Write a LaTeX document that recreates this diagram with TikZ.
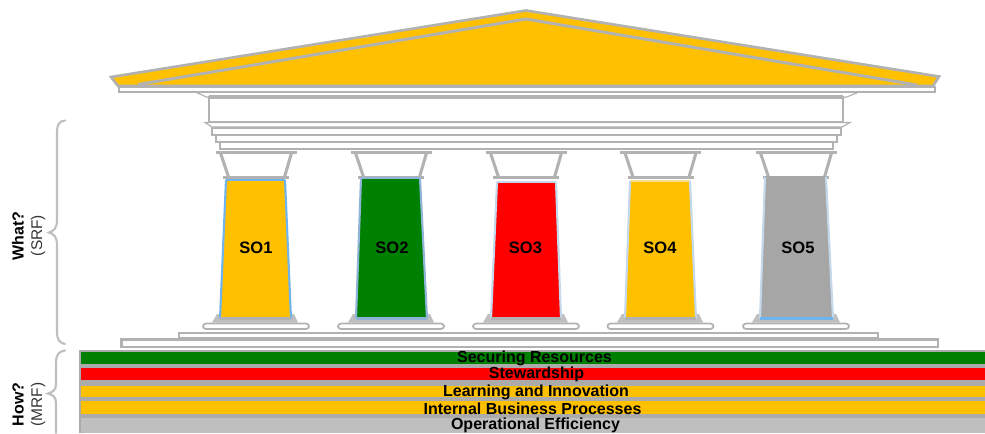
\documentclass[tikz,border=0pt]{standalone}
\usepackage{fontspec}
\setmainfont{Liberation Sans}
\definecolor{gold}{HTML}{FFC000}
\definecolor{dgreen}{HTML}{008000}
\definecolor{line}{HTML}{B2B2B2}
\definecolor{barbg}{HTML}{ABABAB}
\definecolor{pale}{HTML}{BFBFBF}
\definecolor{colgray}{HTML}{A6A6A6}
\definecolor{skyb}{HTML}{70B4EE}
\definecolor{softb}{HTML}{8FB4D8}
\definecolor{paleb}{HTML}{C4D8EC}
\definecolor{paley}{HTML}{F4E08C}
\tikzset{
  beam/.style={draw=line,line width=1.5pt,fill=white},
  thick stroke/.style={draw=line,line width=2.3pt},
  brace line/.style={draw=pale,line width=1.6pt,line cap=round},
  bar label/.style={font=\bfseries\fontsize{12}{12}\selectfont,text=black,inner sep=0pt,anchor=center},
  so label/.style={font=\bfseries\fontsize{12.4}{12.4}\selectfont,text=black,inner sep=0pt,anchor=center},
  side bold/.style={font=\bfseries\fontsize{12}{12}\selectfont,rotate=90,inner sep=0pt,anchor=center},
  side plain/.style={font=\fontsize{11.6}{12}\selectfont,text=black!80,rotate=90,inner sep=0pt,anchor=center},
}
\begin{document}
\begin{tikzpicture}[x=0.75pt,y=-0.75pt]
\useasboundingbox (0,0) rectangle (985,433);
% pediment
\path[fill=gold,draw=line,line width=2pt,line join=miter] (111,77) -- (526,10.5) -- (939,76.5) -- (933,86) -- (118,86) -- cycle;
\path[draw=line,line width=2.2pt] (138,84.5) -- (526,19) -- (917,85);
% cornice
\path[beam] (118.5,86.5) rectangle (935,92);
% entablature
\path[draw=line,line width=0.9pt] (197,93) .. controls (202,94) and (204,97) .. (209,97.5);
\path[draw=line,line width=0.9pt] (857,93) .. controls (852,94) and (850,97) .. (843,97.5);
\path[beam] (209,97) rectangle (843,122);
\path[thick stroke] (209,97) -- (843,97);
\path[draw=line,line width=0.9pt,fill=white] (205,122.5) -- (212,127) -- (842,127) -- (850,122.5) -- cycle;
\path[beam] (211.5,128) rectangle (841,134.5);
\path[beam] (216,134.5) rectangle (837,141.5);
\path[beam] (220,141.5) rectangle (833,149);
% columns: capital centre, top y, top x1, top x2, bottom x1, bottom x2, fill, top colour, side colour, bottom colour
\foreach \cc/\ty/\ta/\tb/\ba/\bb/\fc/\tc/\sc/\bc in {
  255.5/180/226/285/220/291/gold/skyb/skyb/line,
  390.5/178/361/420/356/427/dgreen/softb/softb/softb,
  525.5/182/497/556/491/561/red/paleb/paleb/line,
  660/181/630/690/625/696/gold/paley/paleb/line,
  795.5/177/765/826/760/833/colgray/colgray/paleb/skyb}{
  % capital
  \path[thick stroke] (\cc-40,152.5) -- (\cc+41,152.5);
  \path[thick stroke] (\cc-35,153) -- (\cc-27,177);
  \path[thick stroke] (\cc+36,153) -- (\cc+29,177);
  \path[thick stroke] (\cc-32.5,177.5) -- (\cc+33.5,177.5);
  % base
  \path[fill=pale] (\ba-3,314) -- (\bb+3,314) -- (\bb+7,322.5) -- (\ba-8,322.5) -- cycle;
  \path[draw=line,line width=1.3pt,fill=white] (\cc-49.5,323.5) -- (\cc+50.5,323.5) .. controls (\cc+54.5,324) and (\cc+54.5,328.5) .. (\cc+50.5,329) -- (\cc-49.5,329) .. controls (\cc-53.5,328.5) and (\cc-53.5,324) .. cycle;
  % shaft
  \path[fill=\fc] (\ta,\ty) -- (\tb,\ty) -- (\bb,318.5) -- (\ba,318.5) -- cycle;
  \path[draw=\tc,line width=1.6pt] (\ta,\ty) -- (\tb,\ty);
  \path[draw=\sc,line width=1.6pt] (\ta,\ty) -- (\ba,318.5);
  \path[draw=\sc,line width=1.6pt] (\tb,\ty) -- (\bb,318.5);
  \path[draw=\bc,line width=1.6pt] (\ba,318.5) -- (\bb,318.5);
}
% steps
\path[beam] (178.5,332.5) rectangle (878,338);
\path[draw=line,line width=1.8pt,fill=white] (121.5,339.5) rectangle (938,347);
% bars
\path[fill=barbg] (79,350) rectangle (985,433);
\path[fill=dgreen] (81,351.5) rectangle (985,364);
\path[fill=red] (81,368) rectangle (985,380);
\path[fill=gold] (81,385.5) rectangle (985,397);
\path[fill=gold] (81,401) rectangle (985,414);
\path[fill=pale] (81,418) rectangle (985,433);
% labels
\node[so label] (so1) at (256,248) {SO1};
\node[so label] (so2) at (392,248) {SO2};
\node[so label] (so3) at (525.5,248) {SO3};
\node[so label] (so4) at (660,248) {SO4};
\node[so label] (so5) at (798,248) {SO5};
\node[bar label] (b1) at (534.5,358.5) {Securing Resources};
\node[bar label] (b2) at (536.5,374.5) {Stewardship};
\node[bar label] (b3) at (536,392.5) {Learning and Innovation};
\node[bar label] (b4) at (532.5,408.5) {Internal Business Processes};
\node[bar label] (b5) at (535.5,425) {Operational Efficiency};
\node[side bold] (what) at (18,236) {What?};
\node[side plain] (srf) at (38,235.5) {(SRF)};
\node[side bold] (how) at (18,404.5) {How?};
\node[side plain] (mrf) at (38,404.5) {(MRF)};
% braces
\path[brace line] (65,120.5) .. controls (59,121) and (57,125) .. (57,132) -- (57,220) .. controls (57,228) and (54,231) .. (49,232.5) .. controls (54,234) and (57,237) .. (57,245) -- (57,332) .. controls (57,339) and (59,343) .. (65,344);
\path[brace line] (65,350.5) .. controls (59,351) and (56,355) .. (56,362) -- (56,384) .. controls (56,390) and (53,392) .. (48,393.5) .. controls (53,395) and (56,397) .. (56,403) -- (56,433);
\end{tikzpicture}
\end{document}
